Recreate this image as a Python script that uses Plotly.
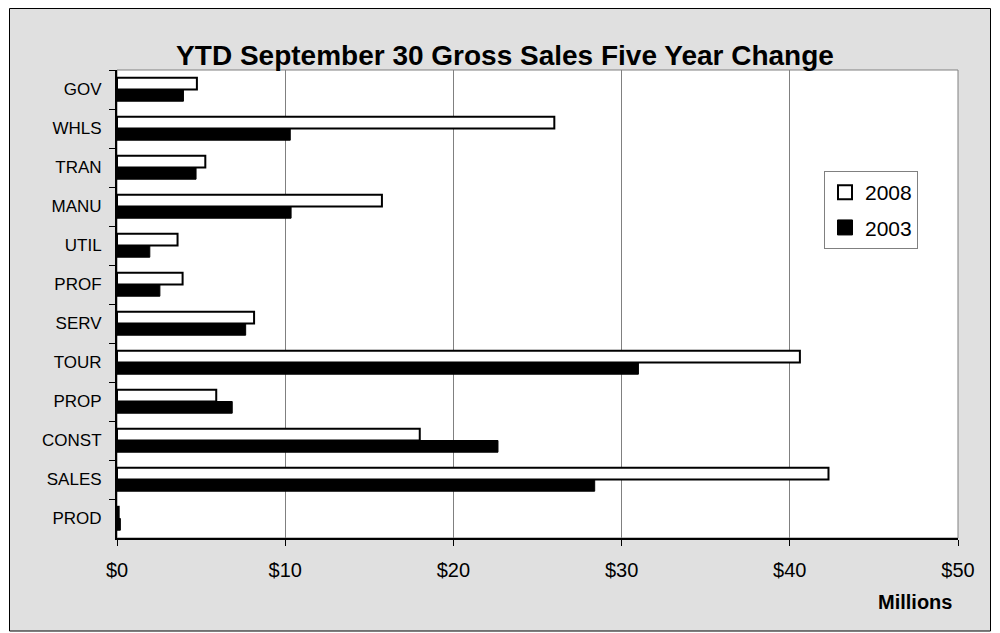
import plotly.graph_objects as go

categories = ["GOV", "WHLS", "TRAN", "MANU", "UTIL", "PROF", "SERV", "TOUR", "PROP", "CONST", "SALES", "PROD"]
sales_2008 = [4.75, 26.0, 5.25, 15.75, 3.6, 3.9, 8.15, 40.6, 5.9, 18.0, 42.3, 0.1]
sales_2003 = [3.95, 10.3, 4.7, 10.35, 1.95, 2.55, 7.65, 31.0, 6.85, 22.65, 28.4, 0.2]
series_names = ["2008", "2003"]
x_ticks = [0, 10, 20, 30, 40, 50]
x_tick_labels = ["$0", "$10", "$20", "$30", "$40", "$50"]

FONT = "Arial, Liberation Sans, sans-serif"
W, H = 1000, 633
L, R, T, B = 117, 958, 70, 538

def px_to_paper_x(px):
    return (px - L) / (R - L)

def px_to_paper_y(py):
    return (B - py) / (B - T)

fig = go.Figure()
fig.add_trace(go.Bar(
    y=categories, x=sales_2008, name=series_names[0], orientation="h",
    marker=dict(color="white", line=dict(color="black", width=2)),
    showlegend=False,
))
fig.add_trace(go.Bar(
    y=categories, x=sales_2003, name=series_names[1], orientation="h",
    marker=dict(color="black", line=dict(color="black", width=1)),
    showlegend=False,
))
# legend entries (square swatches like the original)
fig.add_trace(go.Scatter(
    x=[None], y=[None], mode="markers", name=series_names[0],
    marker=dict(symbol="square", size=14, color="white", line=dict(color="black", width=2)),
    legendgroup="a",
))
fig.add_trace(go.Scatter(
    x=[None], y=[None], mode="markers", name=series_names[1],
    marker=dict(symbol="square", size=15, color="black", line=dict(color="black", width=1)),
    legendgroup="b",
))

shapes = [
    dict(type="rect", xref="paper", yref="paper",
         x0=px_to_paper_x(9.5), x1=px_to_paper_x(990.5),
         y0=px_to_paper_y(631), y1=px_to_paper_y(8.5),
         fillcolor="#e0e0e0", line=dict(color="black", width=1), layer="below"),
    dict(type="rect", xref="paper", yref="paper", x0=0, x1=1, y0=0, y1=1,
         fillcolor="white", line=dict(color="#808080", width=1), layer="below"),
]

fig.update_layout(
    width=W, height=H, autosize=False,
    margin=dict(l=L, r=W - R, t=T, b=H - B, pad=0),
    paper_bgcolor="white", plot_bgcolor="white",
    barmode="group", bargap=0.4, bargroupgap=0,
    font=dict(family=FONT, color="black"),
    title=dict(text="<b>YTD September 30 Gross Sales Five Year Change</b>",
               x=0.505, xanchor="center", y=1 - 55 / H, yanchor="middle",
               xref="container", font=dict(size=28, family=FONT, color="black")),
    shapes=shapes,
    showlegend=True,
    legend=dict(x=px_to_paper_x(824), y=px_to_paper_y(171), xanchor="left", yanchor="top",
                bgcolor="white", bordercolor="#808080", borderwidth=1,
                font=dict(size=21, family=FONT, color="black"),
                tracegroupgap=5, itemwidth=30, itemsizing="trace"),
    annotations=[dict(text="<b>Millions</b>", xref="paper", yref="paper",
                      x=px_to_paper_x(915), y=px_to_paper_y(602),
                      xanchor="center", yanchor="middle", showarrow=False,
                      font=dict(size=20, family=FONT, color="black"))],
)

fig.update_xaxes(
    range=[0, 50], tickvals=x_ticks, ticktext=x_tick_labels,
    showgrid=True, gridcolor="#808080", gridwidth=1,
    showline=True, linecolor="black", linewidth=2,
    ticks="outside", ticklen=6, tickcolor="black", tickwidth=1,
    tickfont=dict(size=20, family=FONT, color="black"),
    ticklabelstandoff=7, zeroline=False, fixedrange=True,
)
fig.update_yaxes(
    autorange="reversed", type="category",
    showgrid=False, showline=True, linecolor="black", linewidth=2,
    ticks="outside", ticklen=6, tickcolor="black", tickwidth=1,
    tickson="boundaries",
    tickfont=dict(size=17, family=FONT, color="black"),
    ticklabelstandoff=10, fixedrange=True,
)

fig.write_html("out.html", config={"displayModeBar": False},
               post_script="document.body.style.margin='0';")
